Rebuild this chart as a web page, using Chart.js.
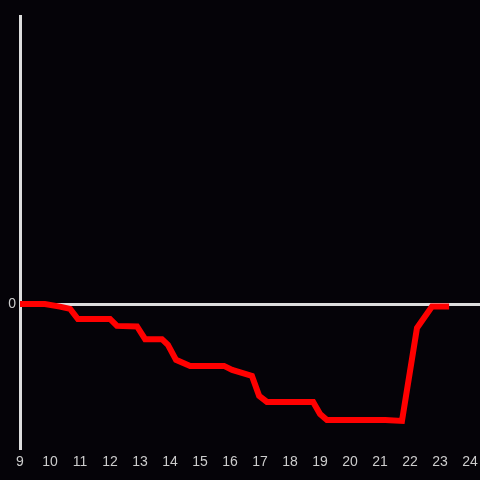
<!DOCTYPE html>
<html>
<head>
    <title>Line chart</title>
    <script src="https://cdn.jsdelivr.net/npm/chart.js"></script>
    <style>
        html, body { margin: 0; padding: 0; background: #050308; }
        #wrap { width: 480px; height: 480px; }
    </style>
</head>
<body>
    <div id="wrap"><canvas id="myChart"></canvas></div>
    <script>
        // hour of day and value
        var hours = [9, 9.83, 10.33, 10.67, 10.93, 12.0, 12.23, 12.9, 13.17, 13.73, 13.93, 14.2, 14.67,
            15.8, 16.07, 16.73, 16.97, 17.23, 18.77, 19.0, 19.23, 21.17, 21.73, 22.23, 22.73, 23.3];
        var values = [0, 0, -0.9, -1.7, -5.2, -5.2, -7.6, -7.8, -12.2, -12.2, -14.2, -19.4, -21.5,
            -21.5, -22.9, -25, -31.9, -34, -34, -38.2, -40.3, -40.3, -40.6, -8.3, -0.9, -0.9];
        var yTicks = [0];

        var points = hours.map(function (h, i) { return { x: h, y: values[i] }; });

        var ctx = document.getElementById('myChart').getContext('2d');
        var myChart = new Chart(ctx, {
            type: 'line',
            data: {
                datasets: [{
                    data: points,
                    borderColor: '#ff0000',
                    borderWidth: 6,
                    pointRadius: 0,
                    tension: 0,
                    fill: false
                }]
            },
            options: {
                responsive: true,
                maintainAspectRatio: false,
                animation: false,
                layout: { padding: { top: 16, right: 0, left: 0, bottom: 0 } },
                plugins: {
                    legend: { display: false },
                    tooltip: { enabled: false }
                },
                scales: {
                    x: {
                        type: 'linear',
                        min: 9,
                        max: 24.33,
                        afterBuildTicks: function (axis) {
                            var t = [];
                            for (var h = 9; h <= 24; h++) t.push({ value: h });
                            axis.ticks = t;
                        },
                        afterFit: function (axis) {
                            axis.height = 32;
                            axis.paddingRight = 0;
                            axis.paddingLeft = 0;
                        },
                        grid: { display: false, drawTicks: false },
                        border: { display: false },
                        ticks: {
                            color: '#cccccc',
                            padding: 6,
                            maxRotation: 0,
                            autoSkip: false,
                            font: { family: 'Liberation Sans', size: 14 }
                        }
                    },
                    y: {
                        min: -50,
                        max: 100,
                        afterBuildTicks: function (axis) {
                            axis.ticks = yTicks.map(function (v) { return { value: v }; });
                        },
                        afterFit: function (axis) { axis.width = 20; },
                        grid: { color: '#dddddd', lineWidth: 3, drawTicks: false },
                        border: { display: true, color: '#dddddd', width: 3 },
                        ticks: {
                            color: '#cccccc',
                            padding: 4,
                            font: { family: 'Liberation Sans', size: 14 }
                        }
                    }
                }
            }
        });
    </script>
</body>
</html>
